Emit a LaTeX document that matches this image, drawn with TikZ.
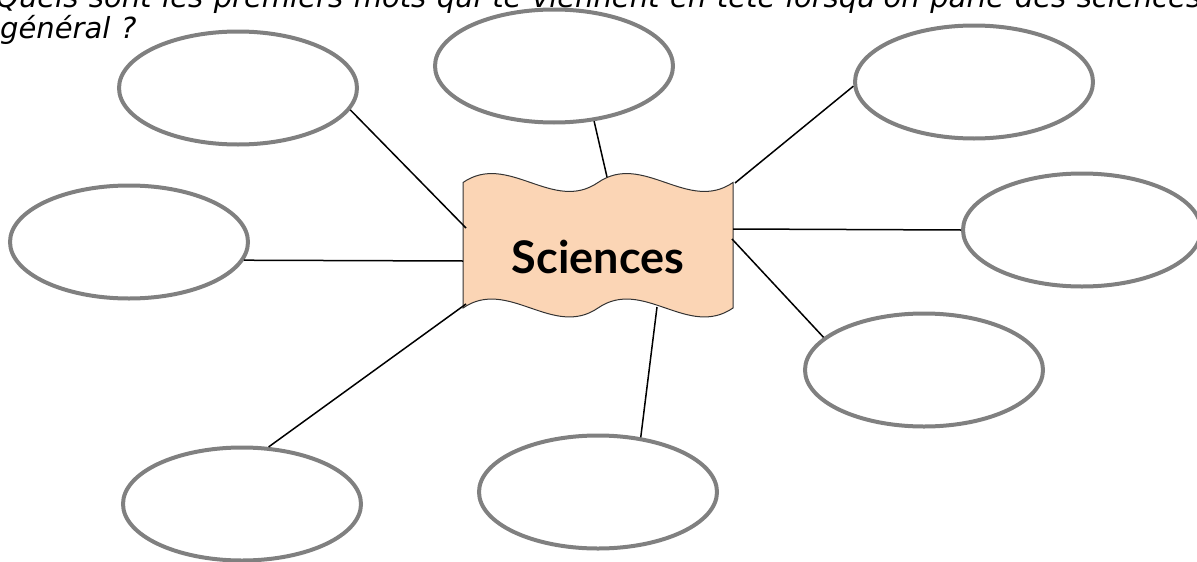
\documentclass[tikz,border=0pt]{standalone}
\usepackage{fontspec}
\usetikzlibrary{shapes.geometric}
\newfontfamily\askfont[WordSpace=1.15]{DejaVu Sans}
\newfontfamily\bannerfont{Lato}
\definecolor{bannerfill}{HTML}{FBD5B5}
\definecolor{bubbleline}{HTML}{808080}

\begin{document}
\begin{tikzpicture}[x=1pt, y=-1pt]
	\tikzset{
		bubble/.style={ellipse, draw=bubbleline, line width=4pt, fill=white, minimum width=238pt, minimum height=113pt, inner sep=0pt},
		banner/.style={fill=bannerfill, draw=black!80, line width=1pt},
		link/.style={line width=1.5pt},
		ask/.style={anchor=base west, inner sep=0pt, font=\askfont\itshape\fontsize{29}{31}\selectfont}
	}
	\useasboundingbox (0,0) rectangle (1197,562);
	
	% Question
	\node (ask1) at (-4,7) [ask] {Quels sont les premiers mots qui te viennent en tête lorsqu'on parle des sciences};
	\node (ask2) at (0,38) [ask] {général ?};
	
	% Banner in the middle
	\filldraw[banner] (463,182.5) .. controls (508,151.5) and (553,213.5) .. (598,182.5)
		.. controls (643,151.5) and (688,213.5) .. (733,182.5) -- (733,308)
		.. controls (688,339) and (643,277) .. (598,308)
		.. controls (553,339) and (508,277) .. (463,308) -- cycle;
	\node (sci) at (598,273) [anchor=base, inner sep=0pt, font=\bannerfont\bfseries\fontsize{45}{45}\selectfont] {Sciences};
	
	% Where the links meet the banner
	\coordinate (pnw) at (466,228);
	\coordinate (pw) at (463,261);
	\coordinate (pn) at (607,177);
	\coordinate (pne) at (735,183);
	\coordinate (pe) at (733,229);
	\coordinate (pse) at (732,239);
	\coordinate (ps) at (657,307);
	\coordinate (psw) at (466,304);
	
	% Empty bubbles
	\node (nw) at (238,88) [bubble] {};
	\node (w) at (129,242) [bubble] {};
	\node (n) at (554,66) [bubble] {};
	\node (ne) at (974,82) [bubble] {};
	\node (e) at (1082,230) [bubble] {};
	\node (se) at (924,370) [bubble] {};
	\node (s) at (598,492) [bubble] {};
	\node (sw) at (242,504) [bubble] {};
	
	\foreach \b/\a in {nw/-11, w/-9, n/-54, ne/182, e/180, se/162, s/52, sw/65} {
		\draw[link] (\b.\a) -- (p\b);
	}
\end{tikzpicture}
\end{document}
